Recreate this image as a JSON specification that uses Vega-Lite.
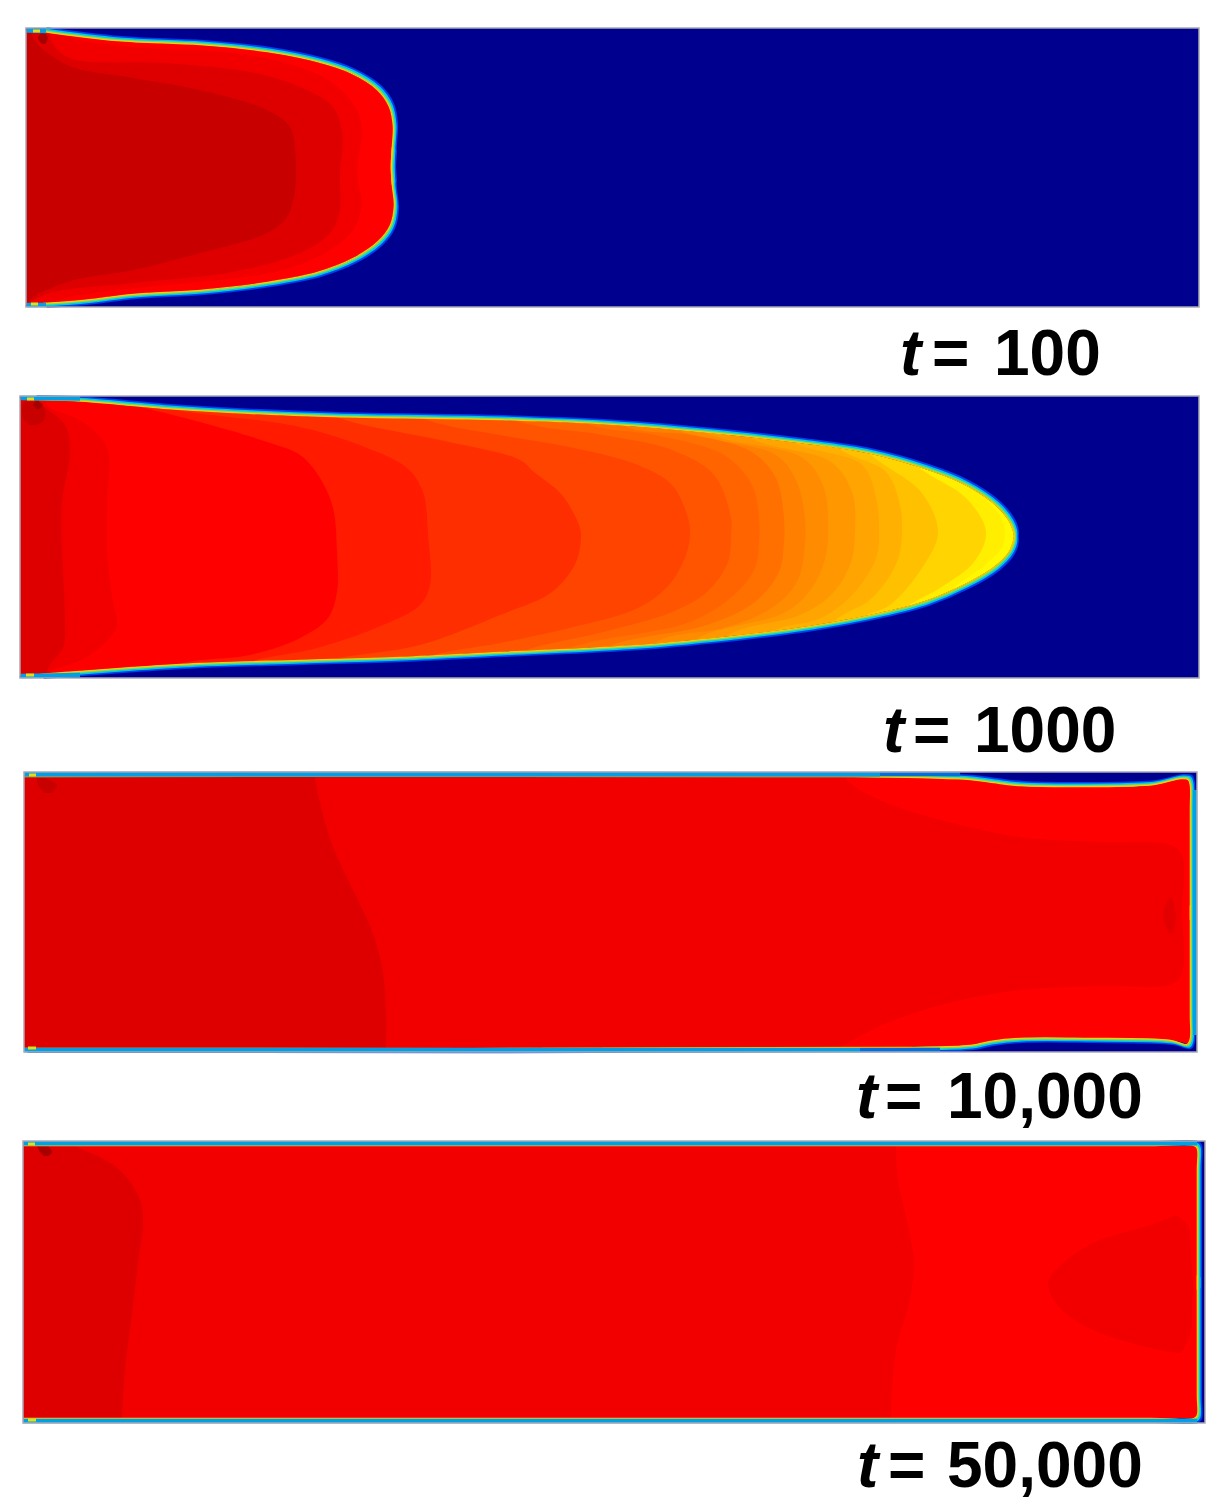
{"$schema":"https://vega.github.io/schema/vega-lite/v6.json","width":1226,"height":1510,"padding":0,"autosize":{"type":"none"},"background":"white","view":{"stroke":null},
"datasets":{
"p1":[{"r":0,"l":5,"y":28,"x":420},{"r":0,"l":5,"y":307,"x":420},
{"r":1,"l":4,"y":28,"x":70},{"r":1,"l":4,"y":36,"x":70},{"r":1,"l":4,"y":47,"x":133},{"r":1,"l":4,"y":53,"x":233},{"r":1,"l":4,"y":65,"x":293},{"r":1,"l":4,"y":83,"x":333},{"r":1,"l":4,"y":110,"x":357},{"r":1,"l":4,"y":133,"x":362},{"r":1,"l":4,"y":160,"x":358},{"r":1,"l":4,"y":183,"x":358},{"r":1,"l":4,"y":203,"x":362},{"r":1,"l":4,"y":230,"x":353},{"r":1,"l":4,"y":250,"x":330},{"r":1,"l":4,"y":270,"x":283},{"r":1,"l":4,"y":282,"x":200},{"r":1,"l":4,"y":292,"x":100},{"r":1,"l":4,"y":302,"x":50},{"r":1,"l":4,"y":307,"x":40},
{"r":2,"l":3,"y":28,"x":50},{"r":2,"l":3,"y":38,"x":50},{"r":2,"l":3,"y":57,"x":67},{"r":2,"l":3,"y":63,"x":167},{"r":2,"l":3,"y":72,"x":250},{"r":2,"l":3,"y":87,"x":300},{"r":2,"l":3,"y":107,"x":333},{"r":2,"l":3,"y":133,"x":342},{"r":2,"l":3,"y":177,"x":340},{"r":2,"l":3,"y":210,"x":340},{"r":2,"l":3,"y":233,"x":330},{"r":2,"l":3,"y":253,"x":300},{"r":2,"l":3,"y":272,"x":233},{"r":2,"l":3,"y":283,"x":133},{"r":2,"l":3,"y":293,"x":50},{"r":2,"l":3,"y":303,"x":30},{"r":2,"l":3,"y":307,"x":28},
{"r":3,"l":2,"y":28,"x":33},{"r":3,"l":2,"y":38,"x":33},{"r":3,"l":2,"y":65,"x":67},{"r":3,"l":2,"y":78,"x":133},{"r":3,"l":2,"y":90,"x":200},{"r":3,"l":2,"y":110,"x":267},{"r":3,"l":2,"y":127,"x":290},{"r":3,"l":2,"y":150,"x":295},{"r":3,"l":2,"y":190,"x":295},{"r":3,"l":2,"y":217,"x":287},{"r":3,"l":2,"y":233,"x":267},{"r":3,"l":2,"y":253,"x":200},{"r":3,"l":2,"y":270,"x":133},{"r":3,"l":2,"y":282,"x":67},{"r":3,"l":2,"y":300,"x":30},{"r":3,"l":2,"y":307,"x":28}],
"p2":[{"r":0,"l":20,"y":396,"x":1030},{"r":0,"l":20,"y":678,"x":1030},
{"r":17,"l":19,"y":396,"x":925},{"r":17,"l":19,"y":485,"x":975},{"r":17,"l":19,"y":522,"x":1003},{"r":17,"l":19,"y":545,"x":1003},{"r":17,"l":19,"y":565,"x":985},{"r":17,"l":19,"y":592,"x":950},{"r":17,"l":19,"y":678,"x":900},
{"r":16,"l":18,"y":396,"x":865},{"r":16,"l":18,"y":464,"x":915},{"r":16,"l":18,"y":498,"x":966},{"r":16,"l":18,"y":532,"x":986},{"r":16,"l":18,"y":562,"x":974},{"r":16,"l":18,"y":588,"x":940},{"r":16,"l":18,"y":612,"x":900},{"r":16,"l":18,"y":678,"x":850},
{"r":15,"l":17,"y":396,"x":820},{"r":15,"l":17,"y":454,"x":870},{"r":15,"l":17,"y":492,"x":921},{"r":15,"l":17,"y":532,"x":938},{"r":15,"l":17,"y":565,"x":924},{"r":15,"l":17,"y":605,"x":890},{"r":15,"l":17,"y":618,"x":862},{"r":15,"l":17,"y":678,"x":810},
{"r":14,"l":16,"y":396,"x":790},{"r":14,"l":16,"y":449,"x":840},{"r":14,"l":16,"y":472,"x":886},{"r":14,"l":16,"y":505,"x":900},{"r":14,"l":16,"y":532,"x":902},{"r":14,"l":16,"y":562,"x":897},{"r":14,"l":16,"y":598,"x":872},{"r":14,"l":16,"y":618,"x":838},{"r":14,"l":16,"y":678,"x":760},
{"r":13,"l":15,"y":396,"x":740},{"r":13,"l":15,"y":441,"x":790},{"r":13,"l":15,"y":465,"x":862},{"r":13,"l":15,"y":498,"x":876},{"r":13,"l":15,"y":528,"x":879},{"r":13,"l":15,"y":558,"x":876},{"r":13,"l":15,"y":595,"x":852},{"r":13,"l":15,"y":618,"x":821},{"r":13,"l":15,"y":632,"x":770},{"r":13,"l":15,"y":678,"x":720},
{"r":12,"l":14,"y":396,"x":700},{"r":12,"l":14,"y":438,"x":750},{"r":12,"l":14,"y":462,"x":831},{"r":12,"l":14,"y":492,"x":852},{"r":12,"l":14,"y":532,"x":855},{"r":12,"l":14,"y":565,"x":850},{"r":12,"l":14,"y":595,"x":831},{"r":12,"l":14,"y":615,"x":800},{"r":12,"l":14,"y":634,"x":730},{"r":12,"l":14,"y":678,"x":680},
{"r":11,"l":13,"y":396,"x":660},{"r":11,"l":13,"y":434,"x":710},{"r":11,"l":13,"y":458,"x":803},{"r":11,"l":13,"y":488,"x":824},{"r":11,"l":13,"y":528,"x":828},{"r":11,"l":13,"y":555,"x":826},{"r":11,"l":13,"y":585,"x":814},{"r":11,"l":13,"y":612,"x":786},{"r":11,"l":13,"y":637,"x":700},{"r":11,"l":13,"y":678,"x":650},
{"r":10,"l":12,"y":396,"x":630},{"r":10,"l":12,"y":431,"x":680},{"r":10,"l":12,"y":455,"x":776},{"r":10,"l":12,"y":482,"x":797},{"r":10,"l":12,"y":518,"x":805},{"r":10,"l":12,"y":545,"x":805},{"r":10,"l":12,"y":582,"x":797},{"r":10,"l":12,"y":608,"x":772},{"r":10,"l":12,"y":628,"x":724},{"r":10,"l":12,"y":640,"x":660},{"r":10,"l":12,"y":678,"x":610},
{"r":9,"l":11,"y":396,"x":580},{"r":9,"l":11,"y":428,"x":630},{"r":9,"l":11,"y":435,"x":693},{"r":9,"l":11,"y":452,"x":752},{"r":9,"l":11,"y":478,"x":776},{"r":9,"l":11,"y":518,"x":784},{"r":9,"l":11,"y":542,"x":784},{"r":9,"l":11,"y":572,"x":779},{"r":9,"l":11,"y":602,"x":755},{"r":9,"l":11,"y":625,"x":707},{"r":9,"l":11,"y":646,"x":610},{"r":9,"l":11,"y":678,"x":560},
{"r":8,"l":10,"y":396,"x":540},{"r":8,"l":10,"y":425,"x":590},{"r":8,"l":10,"y":435,"x":655},{"r":8,"l":10,"y":455,"x":724},{"r":8,"l":10,"y":485,"x":752},{"r":8,"l":10,"y":518,"x":759},{"r":8,"l":10,"y":542,"x":759},{"r":8,"l":10,"y":568,"x":755},{"r":8,"l":10,"y":595,"x":734},{"r":8,"l":10,"y":622,"x":690},{"r":8,"l":10,"y":648,"x":570},{"r":8,"l":10,"y":678,"x":520},
{"r":7,"l":9,"y":396,"x":470},{"r":7,"l":9,"y":422,"x":520},{"r":7,"l":9,"y":435,"x":603},{"r":7,"l":9,"y":450,"x":672},{"r":7,"l":9,"y":475,"x":714},{"r":7,"l":9,"y":518,"x":731},{"r":7,"l":9,"y":535,"x":731},{"r":7,"l":9,"y":562,"x":728},{"r":7,"l":9,"y":592,"x":707},{"r":7,"l":9,"y":612,"x":672},{"r":7,"l":9,"y":632,"x":603},{"r":7,"l":9,"y":652,"x":520},{"r":7,"l":9,"y":678,"x":470},
{"r":6,"l":8,"y":396,"x":380},{"r":6,"l":8,"y":421,"x":430},{"r":6,"l":8,"y":435,"x":500},{"r":6,"l":8,"y":447,"x":569},{"r":6,"l":8,"y":465,"x":638},{"r":6,"l":8,"y":485,"x":672},{"r":6,"l":8,"y":518,"x":688},{"r":6,"l":8,"y":535,"x":690},{"r":6,"l":8,"y":555,"x":686},{"r":6,"l":8,"y":585,"x":669},{"r":6,"l":8,"y":608,"x":638},{"r":6,"l":8,"y":628,"x":569},{"r":6,"l":8,"y":643,"x":500},{"r":6,"l":8,"y":656,"x":430},{"r":6,"l":8,"y":678,"x":380},
{"r":5,"l":7,"y":396,"x":290},{"r":5,"l":7,"y":420,"x":345},{"r":5,"l":7,"y":440,"x":440},{"r":5,"l":7,"y":460,"x":520},{"r":5,"l":7,"y":472,"x":534},{"r":5,"l":7,"y":495,"x":562},{"r":5,"l":7,"y":525,"x":579},{"r":5,"l":7,"y":535,"x":581},{"r":5,"l":7,"y":562,"x":576},{"r":5,"l":7,"y":592,"x":552},{"r":5,"l":7,"y":615,"x":500},{"r":5,"l":7,"y":645,"x":420},{"r":5,"l":7,"y":660,"x":330},{"r":5,"l":7,"y":678,"x":280},
{"r":4,"l":6,"y":396,"x":135},{"r":4,"l":6,"y":408,"x":167},{"r":4,"l":6,"y":427,"x":300},{"r":4,"l":6,"y":448,"x":367},{"r":4,"l":6,"y":468,"x":407},{"r":4,"l":6,"y":492,"x":423},{"r":4,"l":6,"y":535,"x":428},{"r":4,"l":6,"y":585,"x":430},{"r":4,"l":6,"y":605,"x":420},{"r":4,"l":6,"y":625,"x":383},{"r":4,"l":6,"y":648,"x":317},{"r":4,"l":6,"y":662,"x":250},{"r":4,"l":6,"y":678,"x":220},
{"r":3,"l":5,"y":396,"x":100},{"r":3,"l":5,"y":405,"x":133},{"r":3,"l":5,"y":422,"x":200},{"r":3,"l":5,"y":442,"x":267},{"r":3,"l":5,"y":455,"x":300},{"r":3,"l":5,"y":478,"x":320},{"r":3,"l":5,"y":508,"x":333},{"r":3,"l":5,"y":552,"x":337},{"r":3,"l":5,"y":592,"x":337},{"r":3,"l":5,"y":618,"x":328},{"r":3,"l":5,"y":638,"x":300},{"r":3,"l":5,"y":655,"x":250},{"r":3,"l":5,"y":663,"x":183},{"r":3,"l":5,"y":678,"x":150},
{"r":2,"l":4,"y":396,"x":47},{"r":2,"l":4,"y":405,"x":47},{"r":2,"l":4,"y":422,"x":83},{"r":2,"l":4,"y":448,"x":107},{"r":2,"l":4,"y":502,"x":107},{"r":2,"l":4,"y":552,"x":107},{"r":2,"l":4,"y":602,"x":113},{"r":2,"l":4,"y":625,"x":117},{"r":2,"l":4,"y":645,"x":103},{"r":2,"l":4,"y":662,"x":77},{"r":2,"l":4,"y":672,"x":50},{"r":2,"l":4,"y":678,"x":50},
{"r":1,"l":3,"y":396,"x":40},{"r":1,"l":3,"y":402,"x":40},{"r":1,"l":3,"y":425,"x":65},{"r":1,"l":3,"y":452,"x":70},{"r":1,"l":3,"y":502,"x":62},{"r":1,"l":3,"y":552,"x":62},{"r":1,"l":3,"y":618,"x":65},{"r":1,"l":3,"y":648,"x":63},{"r":1,"l":3,"y":665,"x":50},{"r":1,"l":3,"y":678,"x":45}],
"p3":[{"r":0,"l":5,"y":772,"x":1197},{"r":0,"l":5,"y":1052,"x":1197},
{"r":1,"l":4,"y":772,"x":847},{"r":1,"l":4,"y":780,"x":847},{"r":1,"l":4,"y":803,"x":887},{"r":1,"l":4,"y":823,"x":953},{"r":1,"l":4,"y":837,"x":1020},{"r":1,"l":4,"y":842,"x":1100},{"r":1,"l":4,"y":845,"x":1170},{"r":1,"l":4,"y":855,"x":1182},{"r":1,"l":4,"y":910,"x":1182},{"r":1,"l":4,"y":973,"x":1182},{"r":1,"l":4,"y":984,"x":1172},{"r":1,"l":4,"y":986,"x":1100},{"r":1,"l":4,"y":990,"x":1020},{"r":1,"l":4,"y":1002,"x":953},{"r":1,"l":4,"y":1023,"x":887},{"r":1,"l":4,"y":1047,"x":840},{"r":1,"l":4,"y":1052,"x":830},
{"r":2,"l":3,"y":772,"x":315},{"r":2,"l":3,"y":777,"x":315},{"r":2,"l":3,"y":803,"x":320},{"r":2,"l":3,"y":847,"x":333},{"r":2,"l":3,"y":890,"x":353},{"r":2,"l":3,"y":933,"x":373},{"r":2,"l":3,"y":973,"x":383},{"r":2,"l":3,"y":1013,"x":386},{"r":2,"l":3,"y":1047,"x":386},{"r":2,"l":3,"y":1052,"x":386}],
"p4":[{"r":0,"l":5,"y":1141,"x":1205},{"r":0,"l":5,"y":1423,"x":1205},
{"r":1,"l":4,"y":1141,"x":896},{"r":1,"l":4,"y":1147,"x":896},{"r":1,"l":4,"y":1180,"x":898},{"r":1,"l":4,"y":1230,"x":909},{"r":1,"l":4,"y":1267,"x":914},{"r":1,"l":4,"y":1303,"x":909},{"r":1,"l":4,"y":1350,"x":896},{"r":1,"l":4,"y":1417,"x":891},{"r":1,"l":4,"y":1423,"x":891},
{"r":2,"l":3,"y":1141,"x":70},{"r":2,"l":3,"y":1147,"x":77},{"r":2,"l":3,"y":1157,"x":100},{"r":2,"l":3,"y":1173,"x":123},{"r":2,"l":3,"y":1200,"x":140},{"r":2,"l":3,"y":1223,"x":143},{"r":2,"l":3,"y":1263,"x":138},{"r":2,"l":3,"y":1313,"x":132},{"r":2,"l":3,"y":1370,"x":125},{"r":2,"l":3,"y":1417,"x":122},{"r":2,"l":3,"y":1423,"x":122}],
"spots":[
{"r":"a","l":1,"y":32,"x":42,"xr":44},{"r":"a","l":1,"y":38,"x":38,"xr":48},{"r":"a","l":1,"y":44,"x":42,"xr":45},
{"r":"b","l":2,"y":402,"x":24,"xr":38},{"r":"b","l":2,"y":410,"x":22,"xr":45},{"r":"b","l":2,"y":420,"x":24,"xr":44},{"r":"b","l":2,"y":425,"x":30,"xr":36},
{"r":"c","l":1,"y":401,"x":36,"xr":38},{"r":"c","l":1,"y":405,"x":33,"xr":43},{"r":"c","l":1,"y":409,"x":37,"xr":39},
{"r":"d","l":2,"y":778,"x":37,"xr":45},{"r":"d","l":2,"y":785,"x":38,"xr":57},{"r":"d","l":2,"y":793,"x":45,"xr":52},
{"r":"e","l":2.5,"y":898,"x":1169,"xr":1172},{"r":"e","l":2.5,"y":915,"x":1163,"xr":1176},{"r":"e","l":2.5,"y":933,"x":1169,"xr":1173},
{"r":"f","l":1,"y":1146,"x":37,"xr":48},{"r":"f","l":1,"y":1152,"x":40,"xr":52},{"r":"f","l":1,"y":1156,"x":44,"xr":48},
{"r":"g","l":4,"y":1215,"x":1176,"xr":1176},{"r":"g","l":4,"y":1225,"x":1150,"xr":1188},{"r":"g","l":4,"y":1243,"x":1093,"xr":1190},{"r":"g","l":4,"y":1267,"x":1059,"xr":1192},{"r":"g","l":4,"y":1283,"x":1048,"xr":1193},{"r":"g","l":4,"y":1307,"x":1059,"xr":1192},{"r":"g","l":4,"y":1330,"x":1093,"xr":1191},{"r":"g","l":4,"y":1350,"x":1159,"xr":1183},{"r":"g","l":4,"y":1353,"x":1179,"xr":1180}],
"front":[
{"p":1,"s":"t","e":1,"i":1,"x":26,"y":28},{"p":1,"s":"t","e":1,"i":2,"x":26,"y":30},{"p":1,"s":"t","i":3,"x":43,"y":32},{"p":1,"s":"t","i":4,"x":117,"y":41},{"p":1,"s":"t","i":5,"x":200,"y":45},{"p":1,"s":"t","i":6,"x":267,"y":52},{"p":1,"s":"t","i":7,"x":317,"y":62},{"p":1,"s":"t","i":8,"x":350,"y":73},{"p":1,"s":"t","i":9,"x":377,"y":90},{"p":1,"s":"t","i":10,"x":389,"y":107},{"p":1,"s":"t","i":11,"x":393,"y":127},{"p":1,"s":"t","i":12,"x":392,"y":147},{"p":1,"s":"t","i":13,"x":391,"y":167},{"p":1,"s":"t","i":14,"x":392,"y":185},
{"p":1,"s":"b","i":1,"x":392,"y":147},{"p":1,"s":"b","i":2,"x":391,"y":167},{"p":1,"s":"b","i":3,"x":392,"y":185},{"p":1,"s":"b","i":4,"x":394,"y":205},{"p":1,"s":"b","i":5,"x":390,"y":225},{"p":1,"s":"b","i":6,"x":378,"y":241},{"p":1,"s":"b","i":7,"x":353,"y":258},{"p":1,"s":"b","i":8,"x":317,"y":272},{"p":1,"s":"b","i":9,"x":267,"y":282},{"p":1,"s":"b","i":10,"x":200,"y":290},{"p":1,"s":"b","i":11,"x":133,"y":294},{"p":1,"s":"b","i":12,"x":83,"y":300},{"p":1,"s":"b","i":13,"x":43,"y":303},{"p":1,"s":"b","e":1,"i":14,"x":26,"y":305},{"p":1,"s":"b","e":1,"i":15,"x":26,"y":307},
{"p":2,"s":"t","e":1,"i":1,"x":20,"y":396},{"p":2,"s":"t","e":1,"i":2,"x":20,"y":398},{"p":2,"s":"t","i":3,"x":33,"y":400},{"p":2,"s":"t","i":4,"x":73,"y":401},{"p":2,"s":"t","i":5,"x":133,"y":406},{"p":2,"s":"t","i":6,"x":167,"y":409},{"p":2,"s":"t","i":7,"x":233,"y":413},{"p":2,"s":"t","i":8,"x":333,"y":417},{"p":2,"s":"t","i":9,"x":500,"y":420},{"p":2,"s":"t","i":10,"x":600,"y":424},{"p":2,"s":"t","i":11,"x":700,"y":432},{"p":2,"s":"t","i":12,"x":800,"y":443},{"p":2,"s":"t","i":13,"x":867,"y":453},{"p":2,"s":"t","i":14,"x":925,"y":469},{"p":2,"s":"t","i":15,"x":965,"y":485},{"p":2,"s":"t","i":16,"x":995,"y":505},{"p":2,"s":"t","i":17,"x":1010,"y":523},{"p":2,"s":"t","i":18,"x":1014,"y":536},{"p":2,"s":"t","i":19,"x":1010,"y":550},
{"p":2,"s":"b","i":1,"x":1010,"y":523},{"p":2,"s":"b","i":2,"x":1014,"y":536},{"p":2,"s":"b","i":3,"x":1010,"y":550},{"p":2,"s":"b","i":4,"x":995,"y":566},{"p":2,"s":"b","i":5,"x":965,"y":584},{"p":2,"s":"b","i":6,"x":925,"y":601},{"p":2,"s":"b","i":7,"x":879,"y":613},{"p":2,"s":"b","i":8,"x":810,"y":626},{"p":2,"s":"b","i":9,"x":741,"y":635},{"p":2,"s":"b","i":10,"x":638,"y":645},{"p":2,"s":"b","i":11,"x":500,"y":652},{"p":2,"s":"b","i":12,"x":400,"y":657},{"p":2,"s":"b","i":13,"x":300,"y":660},{"p":2,"s":"b","i":14,"x":200,"y":663},{"p":2,"s":"b","i":15,"x":133,"y":667},{"p":2,"s":"b","i":16,"x":80,"y":671},{"p":2,"s":"b","i":17,"x":40,"y":674},{"p":2,"s":"b","e":1,"i":18,"x":20,"y":676},{"p":2,"s":"b","e":1,"i":19,"x":20,"y":678},
{"p":3,"s":"t","i":1,"x":24,"y":777},{"p":3,"s":"t","i":2,"x":853,"y":777},{"p":3,"s":"t","i":3,"x":920,"y":778},{"p":3,"s":"t","i":4,"x":970,"y":780},{"p":3,"s":"t","i":5,"x":993,"y":783},{"p":3,"s":"t","i":6,"x":1020,"y":786},{"p":3,"s":"t","i":7,"x":1087,"y":787},{"p":3,"s":"t","i":8,"x":1153,"y":785},{"p":3,"s":"t","i":9,"x":1180,"y":779},{"p":3,"s":"t","i":10,"x":1188,"y":780},{"p":3,"s":"t","i":11,"x":1190,"y":786},{"p":3,"s":"t","i":12,"x":1190,"y":810},{"p":3,"s":"t","i":13,"x":1190,"y":920},
{"p":3,"s":"b","i":1,"x":1190,"y":905},{"p":3,"s":"b","i":2,"x":1190,"y":1015},{"p":3,"s":"b","i":3,"x":1190,"y":1038},{"p":3,"s":"b","i":4,"x":1187,"y":1044},{"p":3,"s":"b","i":5,"x":1170,"y":1040},{"p":3,"s":"b","i":6,"x":1087,"y":1038},{"p":3,"s":"b","i":7,"x":1020,"y":1038},{"p":3,"s":"b","i":8,"x":990,"y":1041},{"p":3,"s":"b","i":9,"x":970,"y":1045},{"p":3,"s":"b","i":10,"x":903,"y":1047},{"p":3,"s":"b","i":11,"x":24,"y":1048},
{"p":4,"s":"t","i":1,"x":23,"y":1146},{"p":4,"s":"t","i":2,"x":600,"y":1146},{"p":4,"s":"t","i":3,"x":1150,"y":1146},{"p":4,"s":"t","i":4,"x":1194,"y":1146},{"p":4,"s":"t","i":5,"x":1197,"y":1149},{"p":4,"s":"t","i":6,"x":1197,"y":1170},{"p":4,"s":"t","i":7,"x":1197,"y":1220},{"p":4,"s":"t","i":8,"x":1197,"y":1290},
{"p":4,"s":"b","i":1,"x":1197,"y":1275},{"p":4,"s":"b","i":2,"x":1197,"y":1350},{"p":4,"s":"b","i":3,"x":1197,"y":1395},{"p":4,"s":"b","i":4,"x":1197,"y":1415},{"p":4,"s":"b","i":5,"x":1194,"y":1418},{"p":4,"s":"b","i":6,"x":1150,"y":1418},{"p":4,"s":"b","i":7,"x":600,"y":1418},{"p":4,"s":"b","i":8,"x":23,"y":1418}],
"walls":[
{"s":"3t","x":24,"y":777,"w":772},{"s":"3t","x":853,"y":777,"w":772},{"s":"3t","x":920,"y":778,"w":772},{"s":"3t","x":970,"y":780,"w":772},{"s":"3t","x":993,"y":783,"w":772},{"s":"3t","x":1020,"y":786,"w":772},{"s":"3t","x":1087,"y":787,"w":772},{"s":"3t","x":1153,"y":785,"w":772},{"s":"3t","x":1180,"y":779,"w":772},{"s":"3t","x":1190,"y":780,"w":772},
{"s":"3b","x":24,"y":1048,"w":1052},{"s":"3b","x":903,"y":1047,"w":1052},{"s":"3b","x":970,"y":1045,"w":1052},{"s":"3b","x":990,"y":1041,"w":1052},{"s":"3b","x":1020,"y":1038,"w":1052},{"s":"3b","x":1087,"y":1038,"w":1052},{"s":"3b","x":1170,"y":1040,"w":1052},{"s":"3b","x":1187,"y":1044,"w":1052},{"s":"3b","x":1190,"y":1045,"w":1052},
{"s":"3r","x":1190,"y":772,"w":1052},{"s":"3r","x":1197,"y":772,"w":1052},
{"s":"4t","x":23,"y":1146,"w":1141},{"s":"4t","x":1197,"y":1146,"w":1141},
{"s":"4b","x":23,"y":1418,"w":1423},{"s":"4b","x":1197,"y":1418,"w":1423},
{"s":"4r","x":1197,"y":1141,"w":1423},{"s":"4r","x":1205,"y":1141,"w":1423}],
"film":[
{"g":"1t","l":21,"i":1,"x":27,"y":30.5},{"g":"1t","l":21,"i":2,"x":46,"y":31},
{"g":"1b","l":21,"i":1,"x":27,"y":305},{"g":"1b","l":21,"i":2,"x":46,"y":305},
{"g":"2t","l":21,"i":1,"x":21,"y":398},{"g":"2t","l":21,"i":2,"x":80,"y":398.5},
{"g":"2b","l":21,"i":1,"x":21,"y":676},{"g":"2b","l":21,"i":2,"x":80,"y":675},
{"g":"3t","l":21,"i":1,"x":24,"y":774.5},{"g":"3t","l":21,"i":2,"x":880,"y":774.5},
{"g":"3u","l":22,"i":1,"x":880,"y":774},{"g":"3u","l":22,"i":2,"x":960,"y":774},
{"g":"3r","l":21,"i":1,"x":1195,"y":790},{"g":"3r","l":21,"i":2,"x":1195,"y":1035},
{"g":"3b","l":21,"i":1,"x":24,"y":1050},{"g":"3b","l":21,"i":2,"x":860,"y":1050},
{"g":"3c","l":22,"i":1,"x":860,"y":1050},{"g":"3c","l":22,"i":2,"x":940,"y":1050},
{"g":"4t","l":21,"i":1,"x":23,"y":1143.3},{"g":"4t","l":21,"i":2,"x":1197,"y":1143.3},
{"g":"4b","l":21,"i":1,"x":23,"y":1421},{"g":"4b","l":21,"i":2,"x":1197,"y":1421}],
"hot":[
{"g":"1t","l":23,"i":1,"x":33,"y":31},{"g":"1t","l":23,"i":2,"x":40,"y":31},
{"g":"1b","l":23,"i":1,"x":31,"y":304},{"g":"1b","l":23,"i":2,"x":38,"y":304},
{"g":"2t","l":23,"i":1,"x":27,"y":399},{"g":"2t","l":23,"i":2,"x":34,"y":399},
{"g":"2b","l":23,"i":1,"x":26,"y":675},{"g":"2b","l":23,"i":2,"x":34,"y":675},
{"g":"3t","l":23,"i":1,"x":29,"y":775},{"g":"3t","l":23,"i":2,"x":36,"y":775},
{"g":"3b","l":23,"i":1,"x":28,"y":1048},{"g":"3b","l":23,"i":2,"x":36,"y":1048},
{"g":"4t","l":23,"i":1,"x":28,"y":1144},{"g":"4t","l":23,"i":2,"x":35,"y":1144},
{"g":"4b","l":23,"i":1,"x":28,"y":1420},{"g":"4b","l":23,"i":2,"x":36,"y":1420}],
"panels":[{"x":26,"xr":1199,"y":28,"yb":307},{"x":20,"xr":1199,"y":396,"yb":678},{"x":24,"xr":1197,"y":772,"yb":1052},{"x":23,"xr":1205,"y":1141,"yb":1423}],
"labels":[{"x":900,"y":375,"nx":994,"eq":932,"t":"t","v":"100"},{"x":883,"y":752,"nx":974,"eq":913,"t":"t","v":"1000"},{"x":856,"y":1118,"nx":947,"eq":885,"t":"t","v":"10,000"},{"x":857,"y":1487,"nx":947,"eq":888,"t":"t","v":"50,000"}]
},
"encoding":{"x":{"field":"x","type":"quantitative","stack":null,"axis":null,"scale":{"domain":[0,1226],"nice":false,"zero":false}},"y":{"field":"y","type":"quantitative","axis":null,"scale":{"domain":[0,1510],"reverse":true,"nice":false,"zero":false}}},
"layer":[
{"data":{"name":"p1"},"mark":{"type":"area","orient":"horizontal","interpolate":"catmull-rom"},"encoding":{"x2":{"datum":26},"detail":{"field":"r"},"color":{"field":"l","type":"nominal","legend":null,"scale":{"domain":[1,2,2.5,3,4,5,6,7,8,9,10,11,12,13,14,15,16,17,18,19,20,21,22,23],"range":["#a80000","#c80000","#e40000","#de0000","#f20000","#ff0000","#ff1a00","#ff2e00","#ff4400","#ff5400","#ff6400","#ff7000","#ff8000","#ff8c00","#ff9800","#ffa400","#ffb000","#ffc000","#ffd400","#ffee00","#fff800","#00a0e6","#0070e0","#d8e020"]}}}},
{"data":{"name":"p2"},"mark":{"type":"area","orient":"horizontal","interpolate":"catmull-rom"},"encoding":{"x2":{"datum":20},"detail":{"field":"r"},"color":{"field":"l","type":"nominal"}}},
{"data":{"name":"p3"},"mark":{"type":"area","orient":"horizontal","interpolate":"catmull-rom"},"encoding":{"x2":{"datum":24},"detail":{"field":"r"},"color":{"field":"l","type":"nominal"}}},
{"data":{"name":"p4"},"mark":{"type":"area","orient":"horizontal","interpolate":"catmull-rom"},"encoding":{"x2":{"datum":23},"detail":{"field":"r"},"color":{"field":"l","type":"nominal"}}},
{"data":{"name":"spots"},"mark":{"type":"area","orient":"horizontal","interpolate":"catmull-rom"},"encoding":{"x2":{"field":"xr"},"detail":{"field":"r"},"color":{"field":"l","type":"nominal"}}},
{"data":{"name":"front"},"transform":[{"filter":"datum.p<=2"}],"mark":{"type":"area","orient":"horizontal","interpolate":"catmull-rom","color":"#00008f"},"encoding":{"x2":{"datum":1199},"detail":[{"field":"p"},{"field":"s"}]}},
{"data":{"name":"walls"},"mark":{"type":"area","orient":"vertical","interpolate":"catmull-rom","color":"#00008f"},"encoding":{"y2":{"field":"w"},"detail":{"field":"s"}}},
{"data":{"name":"front"},"transform":[{"filter":"datum.s=='t' && !datum.e"}],"mark":{"type":"line","interpolate":"catmull-rom","stroke":"#0040f0","strokeWidth":3,"xOffset":3.5,"yOffset":-3.5},"encoding":{"detail":{"field":"p"},"order":{"field":"i"}}},
{"data":{"name":"front"},"transform":[{"filter":"datum.s=='b' && !datum.e"}],"mark":{"type":"line","interpolate":"catmull-rom","stroke":"#0040f0","strokeWidth":3,"xOffset":3.5,"yOffset":3.5},"encoding":{"detail":{"field":"p"},"order":{"field":"i"}}},
{"data":{"name":"front"},"transform":[{"filter":"datum.s=='t' && !datum.e"}],"mark":{"type":"line","interpolate":"catmull-rom","stroke":"#00c8e8","strokeWidth":2.6,"xOffset":2.2,"yOffset":-2.2},"encoding":{"detail":{"field":"p"},"order":{"field":"i"}}},
{"data":{"name":"front"},"transform":[{"filter":"datum.s=='b' && !datum.e"}],"mark":{"type":"line","interpolate":"catmull-rom","stroke":"#00c8e8","strokeWidth":2.6,"xOffset":2.2,"yOffset":2.2},"encoding":{"detail":{"field":"p"},"order":{"field":"i"}}},
{"data":{"name":"front"},"transform":[{"filter":"datum.s=='t' && !datum.e"}],"mark":{"type":"line","interpolate":"catmull-rom","stroke":"#70e060","strokeWidth":2,"xOffset":1.1,"yOffset":-1.1},"encoding":{"detail":{"field":"p"},"order":{"field":"i"}}},
{"data":{"name":"front"},"transform":[{"filter":"datum.s=='b' && !datum.e"}],"mark":{"type":"line","interpolate":"catmull-rom","stroke":"#70e060","strokeWidth":2,"xOffset":1.1,"yOffset":1.1},"encoding":{"detail":{"field":"p"},"order":{"field":"i"}}},
{"data":{"name":"front"},"transform":[{"filter":"datum.s=='t' && !datum.e"}],"mark":{"type":"line","interpolate":"catmull-rom","stroke":"#ffc800","strokeWidth":1.2,"xOffset":0.3,"yOffset":-0.3},"encoding":{"detail":{"field":"p"},"order":{"field":"i"}}},
{"data":{"name":"front"},"transform":[{"filter":"datum.s=='b' && !datum.e"}],"mark":{"type":"line","interpolate":"catmull-rom","stroke":"#ffc800","strokeWidth":1.2,"xOffset":0.3,"yOffset":0.3},"encoding":{"detail":{"field":"p"},"order":{"field":"i"}}},
{"data":{"name":"film"},"mark":{"type":"line","strokeWidth":4.4},"encoding":{"detail":{"field":"g"},"order":{"field":"i"},"color":{"field":"l","type":"nominal"}}},
{"data":{"name":"hot"},"mark":{"type":"line","strokeWidth":3},"encoding":{"detail":{"field":"g"},"order":{"field":"i"},"color":{"field":"l","type":"nominal"}}},
{"data":{"name":"panels"},"mark":{"type":"rect","fillOpacity":0,"stroke":"#a9a9b4","strokeWidth":1.5},"encoding":{"x2":{"field":"xr"},"y2":{"field":"yb"}}},
{"data":{"name":"labels"},"mark":{"type":"text","align":"left","baseline":"alphabetic","font":"Liberation Sans","fontWeight":"bold","fontStyle":"italic","fontSize":64,"color":"black"},"encoding":{"text":{"field":"t"}}},
{"data":{"name":"labels"},"mark":{"type":"text","align":"left","baseline":"alphabetic","font":"Liberation Sans","fontWeight":"bold","fontSize":64,"color":"black"},"encoding":{"x":{"field":"eq","type":"quantitative"},"text":{"value":"="}}},
{"data":{"name":"labels"},"mark":{"type":"text","align":"left","baseline":"alphabetic","font":"Liberation Sans","fontWeight":"bold","fontSize":64,"color":"black"},"encoding":{"x":{"field":"nx","type":"quantitative"},"text":{"field":"v"}}}
]}
